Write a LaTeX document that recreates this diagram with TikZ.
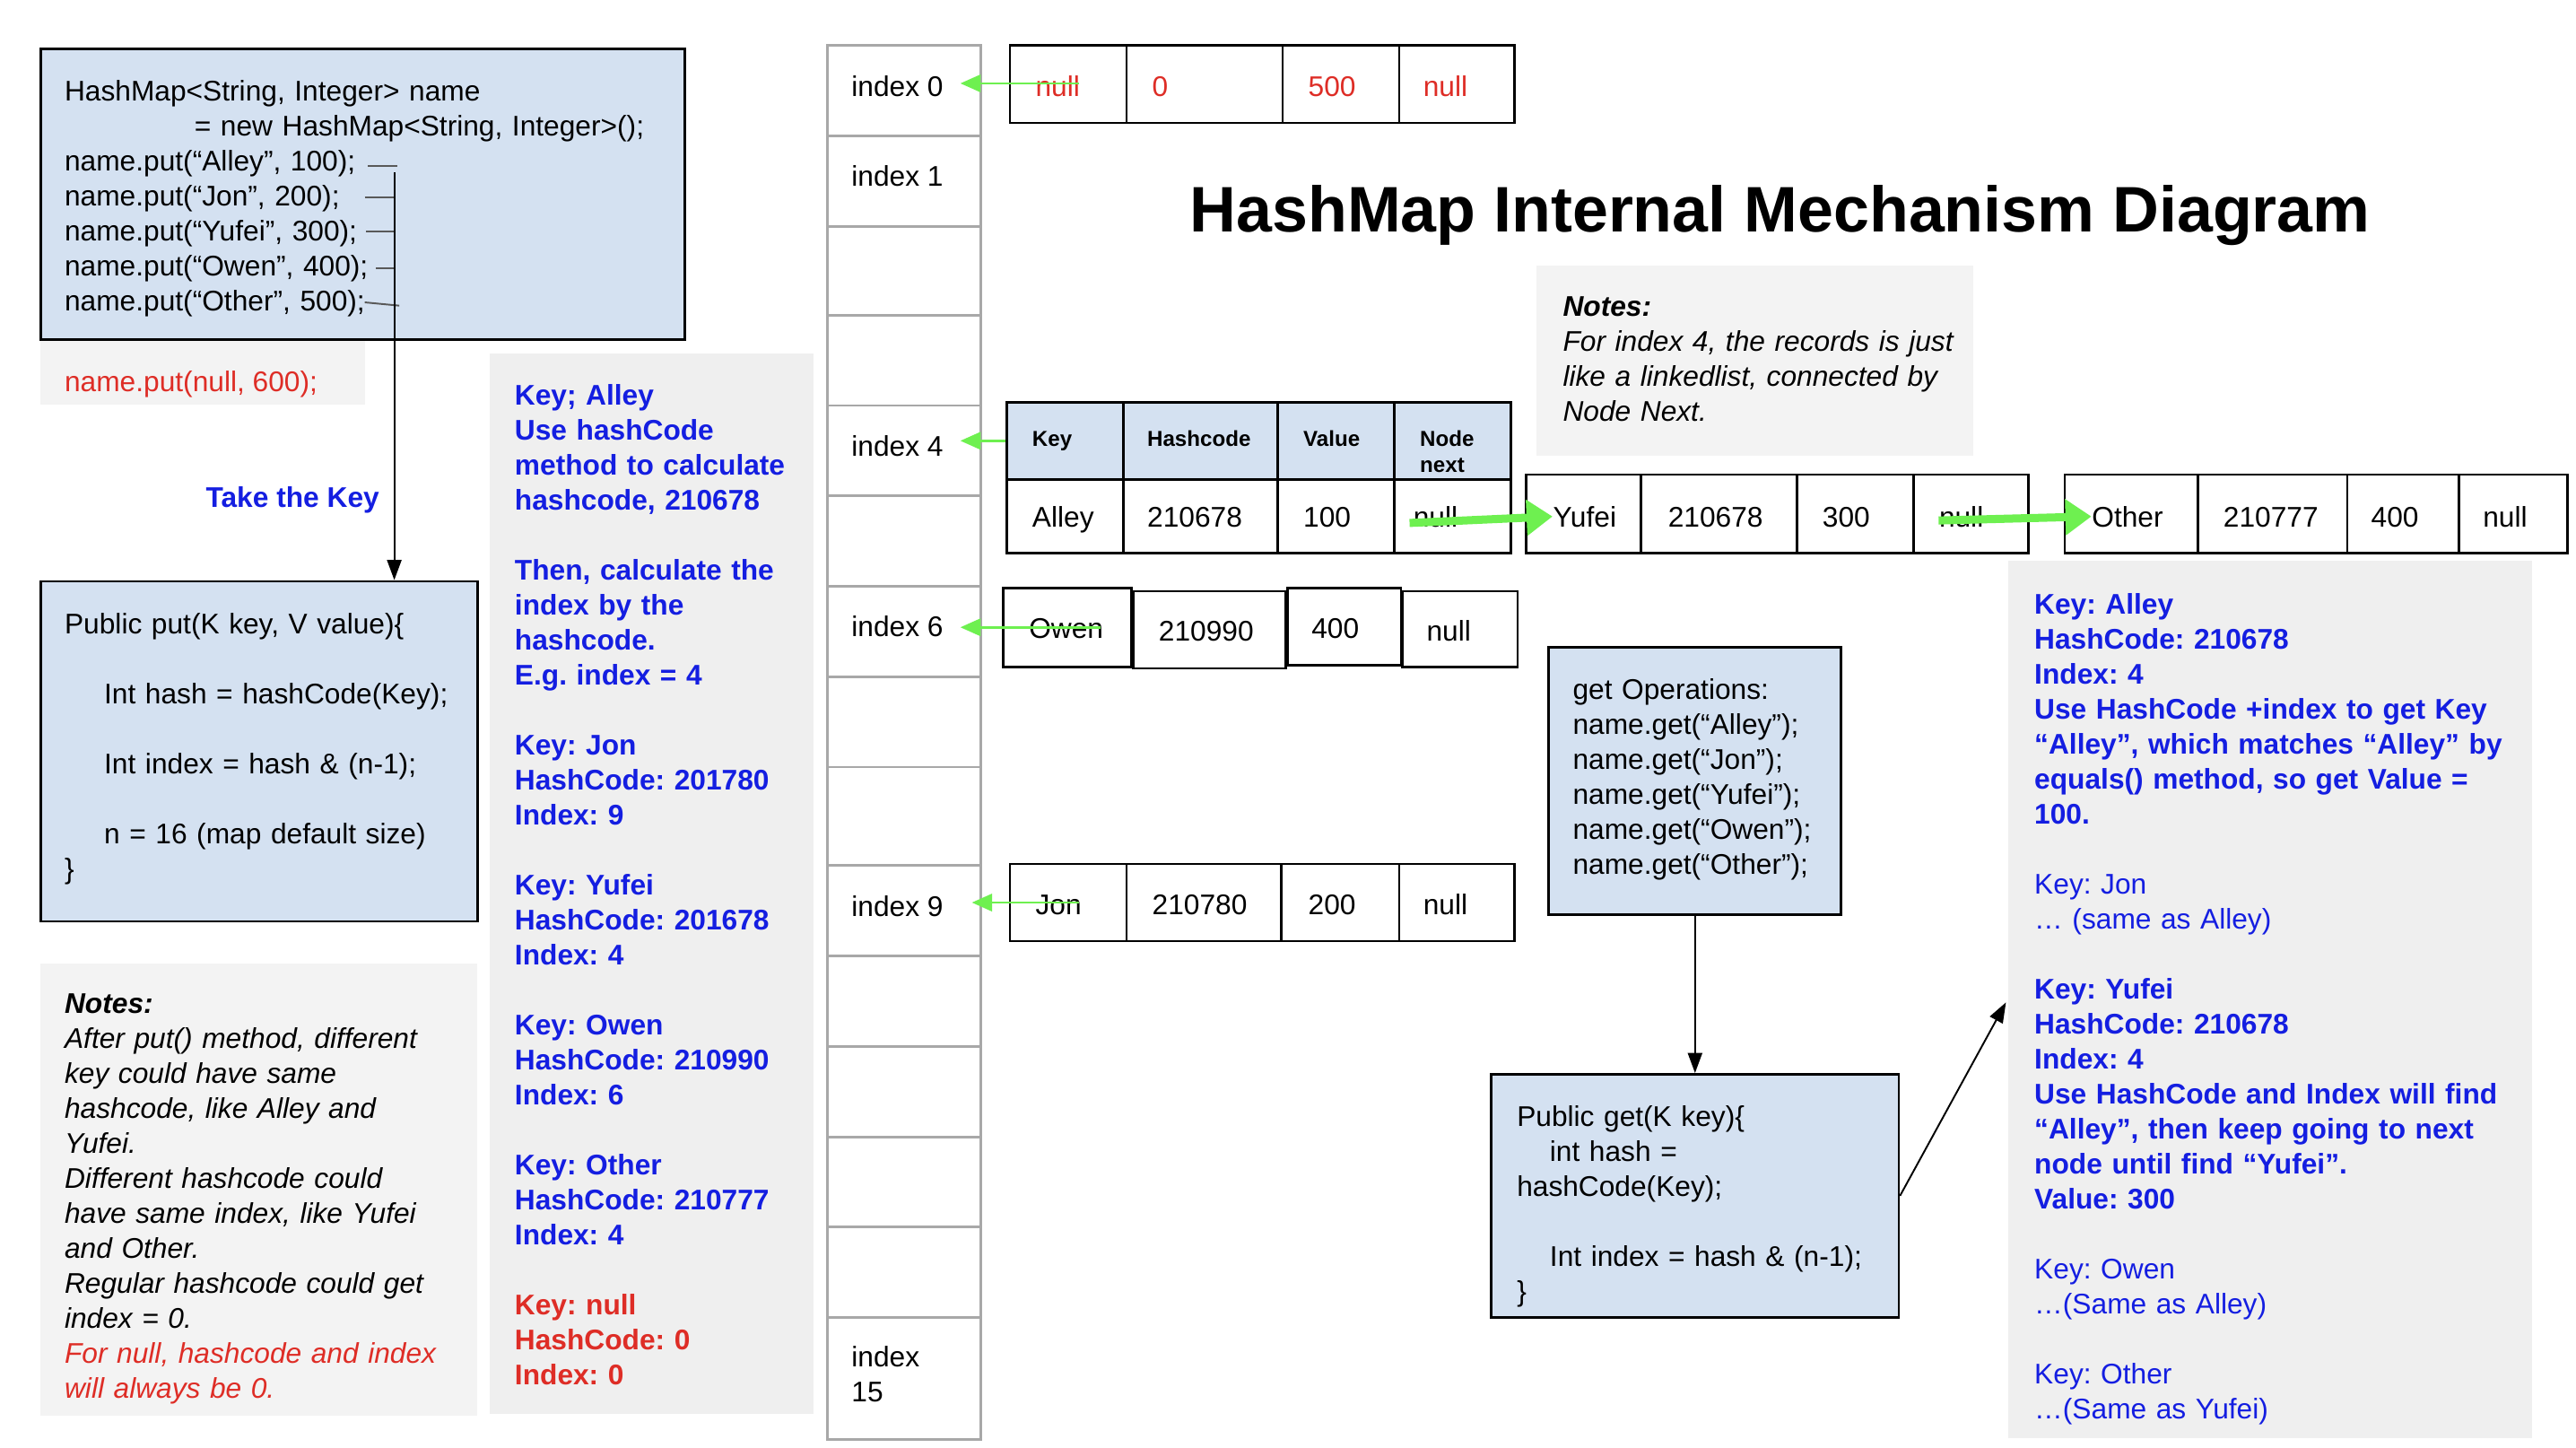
\documentclass[tikz,border=0pt]{standalone}
\usepackage{fontspec}
\setmainfont{Liberation Sans}
\usetikzlibrary{arrows.meta,calc}
\newlength\pxu
\setlength\pxu{0.02cm}
\definecolor{lblue}{RGB}{212,225,241}
\definecolor{ngray}{RGB}{243,243,243}
\definecolor{mgray}{RGB}{239,239,239}
\definecolor{tblue}{RGB}{20,30,225}
\definecolor{tred}{RGB}{222,45,38}
\definecolor{agreen}{RGB}{110,240,80}
\definecolor{igray}{RGB}{168,168,168}
\newcommand\bodyfs{\fontsize{9.85}{12.12}\selectfont\frenchspacing}
\tikzset{
 box/.style={draw, line width=0.85pt, inner sep=0pt, anchor=north west},
 bluebox/.style={box, fill=lblue},
 graybox/.style={inner sep=0pt, anchor=north west},
 cell/.style={draw, line width=0.85pt, inner sep=0pt, anchor=north west},
 idxcell/.style={draw=igray, line width=0.9pt, inner sep=0pt, anchor=north west, minimum width=93\pxu},
 txt/.style={anchor=base west, inner sep=0pt, font=\bodyfs},
 para/.style={anchor=base west, inner sep=0pt, font=\bodyfs, text width=12cm, align=left},
 hdr/.style={anchor=base west, inner sep=0pt, font=\fontsize{7.5}{9.1}\selectfont\bfseries},
 hdrpara/.style={hdr, text width=3cm, align=left},
 garrow/.style={draw=agreen, line width=0.8pt, -{Triangle[length=7pt,width=6pt]}},
 gthick/.style={draw=agreen, line width=2.8pt, -{Triangle[length=9pt,width=12pt]}},
 barrow/.style={draw=black, line width=0.6pt, -{Triangle[length=7pt,width=5pt]}},
 tickln/.style={draw=black!65, line width=0.6pt},
}
\begin{document}
\frenchspacing
\begin{tikzpicture}[x=0.02cm,y=-0.02cm]
\fill[white] (0,0) rectangle (1568,881);
\useasboundingbox (0,0) rectangle (1568,881);

% ---------- code box ----------
\node[bluebox, minimum width=392\pxu, minimum height=177\pxu] (codebox) at (24,29) {};
\node[para] (codetxt) at (39,61.5) {HashMap<String, Integer> name\\\hspace*{45pt}= new HashMap<String, Integer>();\\name.put(“Alley”, 100);\\name.put(“Jon”, 200);\\name.put(“Yufei”, 300);\\name.put(“Owen”, 400);\\name.put(“Other”, 500);};
\node[graybox, fill=ngray, minimum width=198\pxu, minimum height=39\pxu] (nullbox) at (24,207) {};
\node[txt, text=tred] (nulltxt) at (39,238.5) {name.put(null, 600);};

% ticks and arrow to put box
\draw[tickln] (224,101) -- (242,101);
\draw[tickln] (222,120) -- (240,120);
\draw[tickln] (223,141) -- (240,141);
\draw[tickln] (229,163) -- (240,163);
\draw[tickln] (222,184) -- (243,186);
\coordinate (putsrc) at (240,105);

\node[txt, font=\bodyfs\bfseries, text=tblue] (takekey) at (125,308.5) {Take the Key};

% ---------- put box ----------
\node[bluebox, minimum width=266\pxu, minimum height=207\pxu] (putbox) at (24,353) {};
\node[para] (puttxt) at (39,385.5) {Public put(K key, V value)\{\\~\\\hspace*{13.7pt}Int hash = hashCode(Key);\\~\\\hspace*{13.7pt}Int index = hash \& (n-1);\\~\\\hspace*{13.7pt}n = 16 (map default size)\\\}};
\draw[barrow] (putsrc) -- (putsrc |- putbox.north);

% ---------- notes box ----------
\node[graybox, fill=ngray, minimum width=266\pxu, minimum height=275\pxu] (notes1) at (24,586) {};
\node[para, font=\bodyfs\itshape] (notes1txt) at (39,616.5) {\textbf{Notes:}\\After put() method, different\\key could have same\\hashcode, like Alley and\\Yufei.\\Different hashcode could\\have same index, like Yufei\\and Other.\\Regular hashcode could get\\index = 0.\\\textcolor{tred}{For null, hashcode and index}\\\textcolor{tred}{will always be 0.}};

% ---------- hash calculation box ----------
\node[graybox, fill=mgray, minimum width=197\pxu, minimum height=645\pxu] (hashbox) at (298,215) {};
\node[para, font=\bodyfs\bfseries, text=tblue] (hashtxt) at (313,246.5) {Key; Alley\\Use hashCode\\method to calculate\\hashcode, 210678\\~\\Then, calculate the\\index by the\\hashcode.\\E.g. index = 4\\~\\Key: Jon\\HashCode: 201780\\Index: 9\\~\\Key: Yufei\\HashCode: 201678\\Index: 4\\~\\Key: Owen\\HashCode: 210990\\Index: 6\\~\\Key: Other\\HashCode: 210777\\Index: 4\\~\\\textcolor{tred}{Key: null}\\\textcolor{tred}{HashCode: 0}\\\textcolor{tred}{Index: 0}};

% ---------- index column ----------
\node[idxcell, minimum height=55\pxu] (c0) at (503,27) {};
\node[idxcell, minimum height=55\pxu] (c1) at (503,82) {};
\node[idxcell, minimum height=54\pxu] (c2) at (503,137) {};
\node[idxcell, minimum height=55\pxu] (c3) at (503,191) {};
\node[idxcell, minimum height=55\pxu] (c4) at (503,246) {};
\node[idxcell, minimum height=55\pxu] (c5) at (503,301) {};
\node[idxcell, minimum height=55\pxu] (c6) at (503,356) {};
\node[idxcell, minimum height=55\pxu] (c7) at (503,411) {};
\node[idxcell, minimum height=60\pxu] (c8) at (503,466) {};
\node[idxcell, minimum height=55\pxu] (c9) at (503,526) {};
\node[idxcell, minimum height=55\pxu] (c10) at (503,581) {};
\node[idxcell, minimum height=55\pxu] (c11) at (503,636) {};
\node[idxcell, minimum height=55\pxu] (c12) at (503,691) {};
\node[idxcell, minimum height=55\pxu] (c13) at (503,746) {};
\node[idxcell, minimum height=74\pxu] (c15) at (503,801) {};
\node[txt] (l0) at (518,58.5) {index 0};
\node[txt] (l1) at (518,113.5) {index 1};
\node[txt] (l4) at (518,277.5) {index 4};
\node[txt] (l6) at (518,387.5) {index 6};
\node[txt] (l9) at (518,557.5) {index 9};
\node[para] (l15) at (518,831.5) {index\\15};

% ---------- index 0 row ----------
\node[cell, minimum width=71\pxu, minimum height=47\pxu] (a0) at (614,27) {};
\node[cell, minimum width=95\pxu, minimum height=47\pxu] (a1) at (685,27) {};
\node[cell, minimum width=71\pxu, minimum height=47\pxu] (a2) at (780,27) {};
\node[cell, minimum width=70\pxu, minimum height=47\pxu] (a3) at (851,27) {};
\node[txt, text=tred] (a0t) at (630,58.5) {null};
\node[txt, text=tred] (a1t) at (701,58.5) {0};
\node[txt, text=tred] (a2t) at (796,58.5) {500};
\node[txt, text=tred] (a3t) at (866,58.5) {null};
\draw[garrow] ($(a0.west)+(43,-0.5)$) coordinate (g0s) -- ($(c0.east |- g0s)+(-13,0)$);

% ---------- title ----------
\node[anchor=base, inner sep=0pt, font=\fontsize{22.3}{26}\selectfont\bfseries] (title) at (1083.5,141) {HashMap Internal Mechanism Diagram};

% ---------- notes 2 ----------
\node[graybox, fill=ngray, minimum width=266\pxu, minimum height=116\pxu] (notes2) at (935,161) {};
\node[para, font=\bodyfs\itshape] (notes2txt) at (951,192.5) {\textbf{Notes:}\\For index 4, the records is just\\like a linkedlist, connected by\\Node Next.};

% ---------- index 4 table ----------
\node[cell, fill=lblue, minimum width=71\pxu, minimum height=47\pxu] (h0) at (612,244) {};
\node[cell, fill=lblue, minimum width=94\pxu, minimum height=47\pxu] (h1) at (683,244) {};
\node[cell, fill=lblue, minimum width=71\pxu, minimum height=47\pxu] (h2) at (777,244) {};
\node[cell, fill=lblue, minimum width=71\pxu, minimum height=47\pxu] (h3) at (848,244) {};
\node[hdr] (h0t) at (628,271.5) {Key};
\node[hdr] (h1t) at (698,271.5) {Hashcode};
\node[hdr] (h2t) at (793,271.5) {Value};
\node[hdrpara] (h3t) at (864,271.5) {Node\\next};
\node[cell, minimum width=71\pxu, minimum height=45\pxu] (d0) at (612,291) {};
\node[cell, minimum width=94\pxu, minimum height=45\pxu] (d1) at (683,291) {};
\node[cell, minimum width=71\pxu, minimum height=45\pxu] (d2) at (777,291) {};
\node[cell, minimum width=71\pxu, minimum height=45\pxu] (d3) at (848,291) {};
\node[txt] (d0t) at (628,320.5) {Alley};
\node[txt] (d1t) at (698,320.5) {210678};
\node[txt] (d2t) at (793,320.5) {100};
\node[txt] (d3t) at (860,320.5) {null};
\draw[garrow] (h0.west) -- ($(c4.east |- h0.west)+(-13,0)$);

% ---------- Yufei node ----------
\node[cell, minimum width=70\pxu, minimum height=48\pxu] (y1) at (928,288) {};
\node[cell, minimum width=95\pxu, minimum height=48\pxu] (y2) at (998,288) {};
\node[cell, minimum width=71\pxu, minimum height=48\pxu] (y3) at (1093,288) {};
\node[cell, minimum width=70\pxu, minimum height=48\pxu] (y4) at (1164,288) {};
\node[txt] (y1t) at (945,320.5) {Yufei};
\node[txt] (y2t) at (1015,320.5) {210678};
\node[txt] (y3t) at (1109,320.5) {300};
\node[txt] (y4t) at (1180,320.5) {null};

% ---------- Other node ----------
\node[cell, minimum width=81\pxu, minimum height=48\pxu] (o1) at (1256,288) {};
\node[cell, minimum width=91\pxu, minimum height=48\pxu] (o2) at (1337,288) {};
\node[cell, minimum width=68\pxu, minimum height=48\pxu] (o3) at (1428,288) {};
\node[cell, minimum width=66\pxu, minimum height=48\pxu] (o4) at (1496,288) {};
\node[txt] (o1t) at (1273,320.5) {Other};
\node[txt] (o2t) at (1353,320.5) {210777};
\node[txt] (o3t) at (1443,320.5) {400};
\node[txt] (o4t) at (1511,320.5) {null};

\draw[gthick] ($(d3.west)+(10,4)$) -- (y1t.west);
\draw[gthick] ($(y4.west)+(16,4)$) -- (o1t.west);

% ---------- Owen row ----------
\node[cell, minimum width=78\pxu, minimum height=48\pxu] (w1) at (610,357) {};
\node[cell, minimum width=93\pxu, minimum height=47\pxu] (w2) at (689,359) {};
\node[cell, minimum width=69\pxu, minimum height=47\pxu] (w3) at (783,357) {};
\node[cell, minimum width=70\pxu, minimum height=46\pxu] (w4) at (853,359) {};
\node[txt] (w1t) at (626,388.5) {Owen};
\node[txt] (w2t) at (705,390) {210990};
\node[txt] (w3t) at (798,388.5) {400};
\node[txt] (w4t) at (868,390) {null};
\draw[garrow] ($(w1.west)+(60,0)$) coordinate (g6s) -- ($(c6.east |- g6s)+(-13,0)$);

% ---------- Jon row ----------
\node[cell, minimum width=71\pxu, minimum height=47\pxu] (j1) at (614,525) {};
\node[cell, minimum width=94\pxu, minimum height=47\pxu] (j2) at (685,525) {};
\node[cell, minimum width=72\pxu, minimum height=47\pxu] (j3) at (779,525) {};
\node[cell, minimum width=70\pxu, minimum height=47\pxu] (j4) at (851,525) {};
\node[txt] (j1t) at (630,556.5) {Jon};
\node[txt] (j2t) at (701,556.5) {210780};
\node[txt] (j3t) at (796,556.5) {200};
\node[txt] (j4t) at (866,556.5) {null};
\draw[garrow] ($(j1.west)+(43,0)$) coordinate (g9s) -- ($(c9.east |- g9s)+(-6,0)$);

% ---------- get operations ----------
\node[bluebox, minimum width=178\pxu, minimum height=163\pxu] (getops) at (942,393) {};
\node[para] (getopstxt) at (957,425.5) {get Operations:\\name.get(“Alley”);\\name.get(“Jon”);\\name.get(“Yufei”);\\name.get(“Owen”);\\name.get(“Other”);};

\node[bluebox, minimum width=248\pxu, minimum height=148\pxu] (getbox) at (907,653) {};
\node[para] (getboxtxt) at (923,685.5) {Public get(K key)\{\\\hspace*{11.4pt}int hash =\\hashCode(Key);\\~\\\hspace*{11.4pt}Int index = hash \& (n-1);\\\}};
\draw[barrow] (getops.south) -- (getbox.north);

% ---------- right explanation ----------
\node[graybox, fill=mgray, minimum width=319\pxu, minimum height=534\pxu] (rbox) at (1222,341) {};
\node[para, text=tblue] (rboxtxt) at (1238,373.5) {\textbf{Key: Alley}\\\textbf{HashCode: 210678}\\\textbf{Index: 4}\\\textbf{Use HashCode +index to get Key}\\\textbf{“Alley”, which matches “Alley” by}\\\textbf{equals() method, so get Value =}\\\textbf{100.}\\~\\Key: Jon\\… (same as Alley)\\~\\\textbf{Key: Yufei}\\\textbf{HashCode: 210678}\\\textbf{Index: 4}\\\textbf{Use HashCode and Index will find}\\\textbf{“Alley”, then keep going to next}\\\textbf{node until find “Yufei”.}\\\textbf{Value: 300}\\~\\Key: Owen\\…(Same as Alley)\\~\\Key: Other\\…(Same as Yufei)};
\draw[barrow] (getbox.east) -- ($(rbox.north west)+(-1,269)$);
\end{tikzpicture}
\end{document}
